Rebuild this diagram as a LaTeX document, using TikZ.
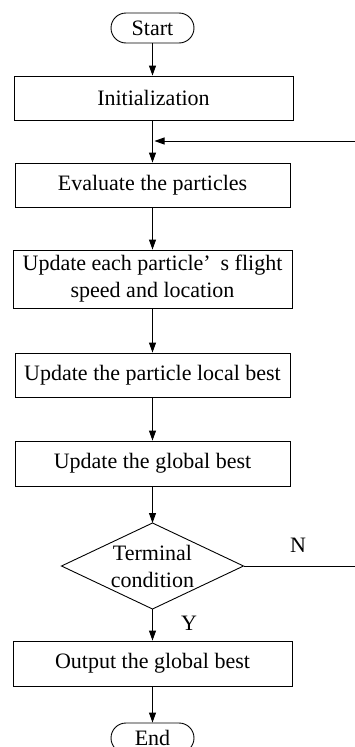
\documentclass[tikz,border=0pt]{standalone}
\usepackage{fontspec}
\setmainfont{Liberation Serif}
\usetikzlibrary{arrows.meta}
\begin{document}
\begin{tikzpicture}[x=1pt,y=-1pt,
  font=\fontsize{22}{27}\selectfont,
  every path/.style={line width=0.9pt},
  box/.style={draw, rectangle, inner sep=0pt, align=center},
  term/.style={draw, rectangle, rounded corners=15pt, minimum width=83pt, minimum height=30pt, inner sep=0pt},
  arr/.style={-{Triangle[length=10pt,width=7pt]}},
  lbl/.style={inner sep=0pt}]
\useasboundingbox (0,0) rectangle (354,747);
\node[term] (start) at (152.5,28) {Start};
\node[box, minimum width=279pt, minimum height=44pt] (init) at (153.5,98) {Initialization};
\node[box, minimum width=275pt, minimum height=44pt] (eval) at (152.5,185) {Evaluate the particles};
\node[box, minimum width=279pt, minimum height=58pt] (upd) at (152.5,279) {Update each particle’\hspace{0.45em}s flight\\speed and location};
\node[box, minimum width=275pt, minimum height=44pt] (loc) at (152.5,375) {Update the particle local best};
\node[box, minimum width=275pt, minimum height=45pt] (glob) at (152.5,463.5) {Update the global best};
\node[inner sep=0pt, align=center] (cond) at (152.5,566.5) {Terminal\\condition};
\coordinate (condN) at (152.5,523);
\coordinate (condS) at (152.5,609);
\coordinate (condE) at (243.5,566);
\coordinate (condW) at (61.5,566);
\draw (condN) -- (condE) -- (condS) -- (condW) -- cycle;
\node[box, minimum width=279pt, minimum height=45pt] (out) at (152.5,663.5) {Output the global best};
\node[term] (end) at (152.5,738) {End};
\node[lbl] (N) at (298,545) {N};
\node[lbl] (Y) at (189,623) {Y};
\coordinate (r1) at (358,566);
\coordinate (r2) at (358,141);
\coordinate (j) at (152.5,141);
\draw[arr] (start.south) -- (start.south |- init.north);
\draw[arr] (init.south -| eval.north) -- (eval.north);
\draw[arr] (eval.south) -- (upd.north);
\draw[arr] (upd.south) -- (loc.north);
\draw[arr] (loc.south) -- (glob.north);
\draw[arr] (glob.south) -- (condN);
\draw[arr] (condS) -- (out.north);
\draw[arr] (out.south) -- (end.north);
\draw[arr, shorten >=2pt] (condE) -- (r1) -- (r2) -- (j);
\end{tikzpicture}
\end{document}
